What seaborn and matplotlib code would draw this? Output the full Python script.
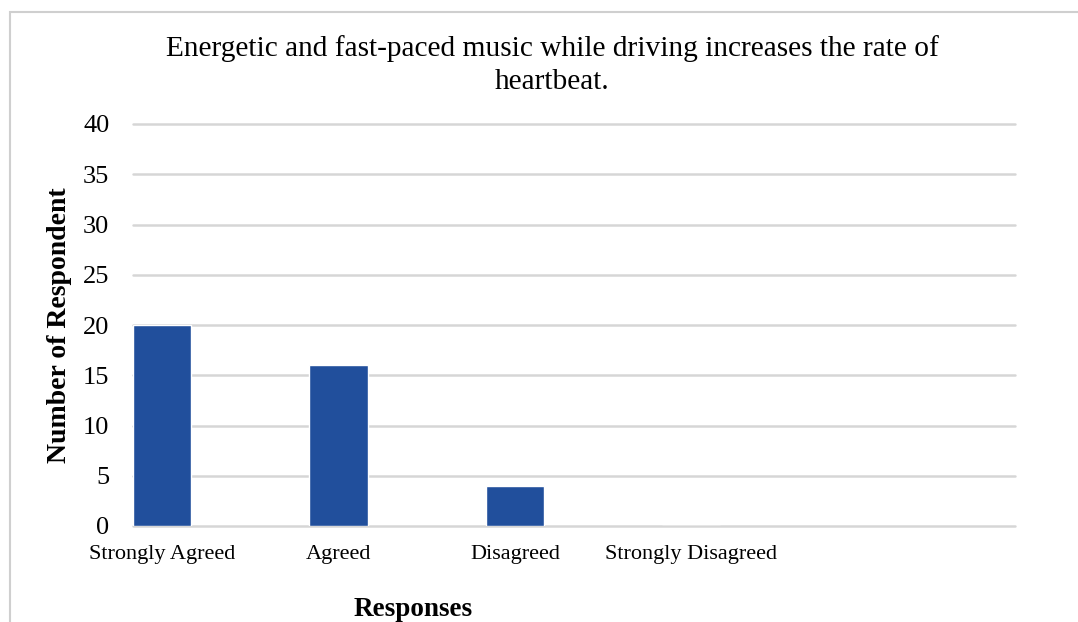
import matplotlib
matplotlib.use("Agg")
import matplotlib.pyplot as plt
from matplotlib.patches import Rectangle
import seaborn as sns
import pandas as pd

categories = ["Strongly Agreed", "Agreed", "Disagreed", "Strongly Disagreed"]
respondents = [20, 16, 4, 0]
y_ticks = [0, 5, 10, 15, 20, 25, 30, 35, 40]

title = "Energetic and fast-paced music while driving increases the rate of\nheartbeat."

sns.set_theme(style="white")
plt.rcParams["font.family"] = ["Liberation Serif", "DejaVu Serif"]
plt.rcParams["text.color"] = "black"

df = pd.DataFrame({"Response": categories, "Count": respondents})

fig = plt.figure(figsize=(10.78, 6.22), dpi=100)
fig.patch.set_facecolor("white")

# thin frame around the chart area
fig.patches.append(Rectangle((10 / 1078, -0.1), 1.2, 1 - 12 / 622 + 0.1,
                             transform=fig.transFigure, fill=False,
                             edgecolor="#cfcfcf", linewidth=1.5, zorder=0))

ax = fig.add_axes([133 / 1078, 1 - 526 / 622, (1015 - 133) / 1078, (526 - 124) / 622])
bar_width = 0.33
sns.barplot(data=df, x="Response", y="Count", color="#214F9C", width=bar_width,
            saturation=1, ax=ax, zorder=3)

# five equal slots, first bar flush with the left edge
ax.set_xlim(-bar_width / 2, 5 - bar_width / 2)
ax.set_ylim(0, 40)
ax.set_yticks(y_ticks)
ax.set_yticklabels([str(t) for t in y_ticks], fontsize=19)
ax.set_xticks(range(len(categories)))
ax.set_xticklabels(categories, fontsize=16)
ax.tick_params(axis="both", length=0, colors="black")
ax.tick_params(axis="x", pad=14)
ax.tick_params(axis="y", pad=17)

for y in y_ticks:
    ax.axhline(y, color="#d6d6d6", linewidth=1.8, zorder=1, clip_on=False)

for s in ax.spines.values():
    s.set_visible(False)
ax.set_xlabel("")
ax.set_ylabel("")
ax.set_facecolor("white")

fig.text(552 / 1078, 1 - 65 / 622, title, ha="center", va="center",
         fontsize=21.2, linespacing=1.35, color="black")
fig.text(60 / 1078, 1 - 325 / 622, "Number of Respondent", rotation=90,
         ha="center", va="center", fontsize=20, fontweight="bold", color="black")
fig.text(413 / 1078, 1 - 610 / 622, "Responses", ha="center", va="center",
         fontsize=19.5, fontweight="bold", color="black")

fig.savefig("out.png", dpi=100, facecolor="white")
